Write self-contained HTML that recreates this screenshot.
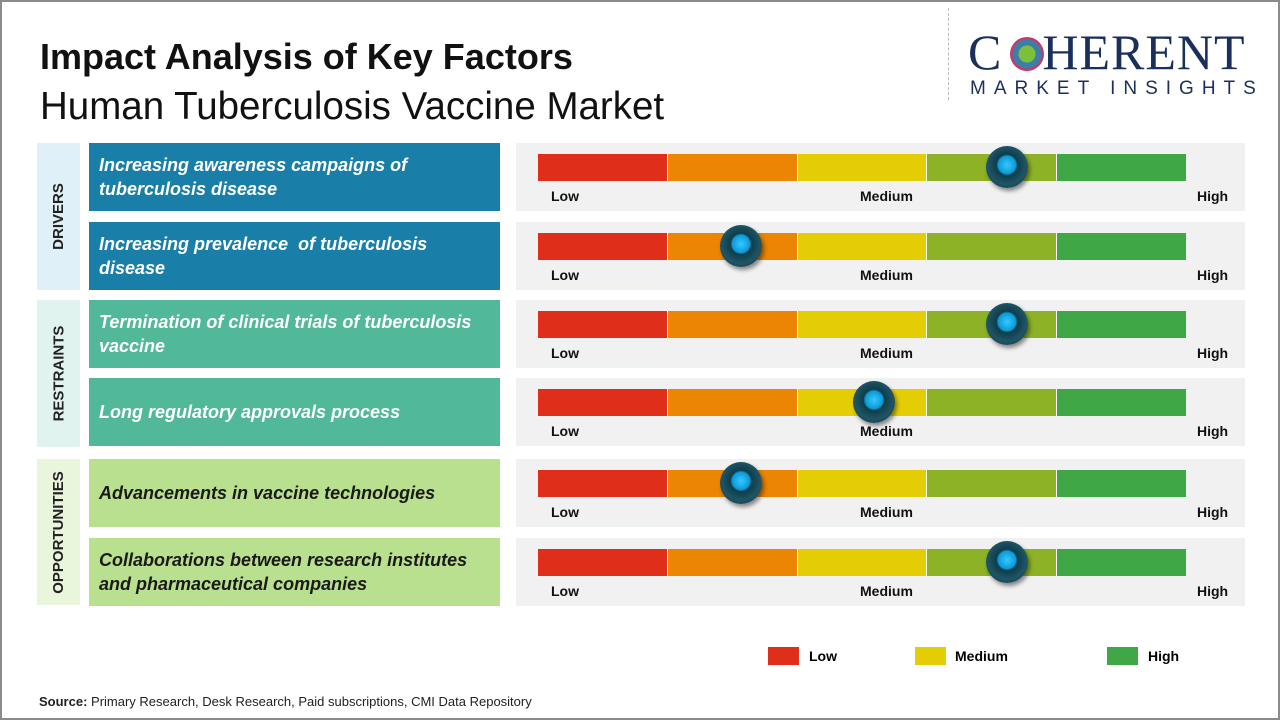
<!DOCTYPE html>
<html><head><meta charset="utf-8"><style>
*{margin:0;padding:0;box-sizing:border-box}
body{width:1280px;height:720px;background:#fff;position:relative;overflow:hidden;font-family:"Liberation Sans",sans-serif}
.a{position:absolute}
.cat{position:absolute;left:37px;width:43px;display:flex;align-items:center;justify-content:center}
.cat span{transform:rotate(-90deg);white-space:nowrap;font-weight:bold;font-size:15px;color:#222}
.lab{position:absolute;left:89px;width:411px;height:68px;display:flex;align-items:center;padding-left:10px;font-weight:bold;font-style:italic;font-size:18px;line-height:24px}
.pan{position:absolute;left:516px;width:729px;height:68px;background:#f1f1f1}
.bar{position:absolute;left:22px;top:11px;height:27px;width:648px;display:flex}
.bar div{flex:1;border-right:1.5px solid #fff}
.bar div:last-child{border:none}
.t{position:absolute;top:45px;font-size:14px;font-weight:bold;color:#111}
.k{position:absolute;width:42px;height:42px;border-radius:50%;background:radial-gradient(circle at 50% 45%,#36c8ff 0,#0d9ad8 28%,#0e3d4a 34%,#1f5566 62%,#0b2a33 100%);box-shadow:2px 3px 4px rgba(0,0,0,.45);top:3px}
</style></head><body>
<div class="a" style="left:0;top:0;width:1280px;height:720px;border:2px solid #8a8a8a"></div>
<div class="a" style="left:40px;top:36px;font-size:36px;font-weight:bold;color:#111">Impact Analysis of Key Factors</div>
<div class="a" style="left:40px;top:85px;font-size:38.5px;color:#111">Human Tuberculosis Vaccine Market</div>
<div class="a" style="left:948px;top:8px;height:92px;border-left:1.5px dashed #bbb"></div>
<div class="a" style="left:968px;top:26px;font-family:'Liberation Serif',serif;font-size:50px;color:#1b2f5c;letter-spacing:1px;line-height:52px">C<span style="display:inline-block;width:40px"></span>HERENT</div>
<div class="a" style="left:1010px;top:37px;width:34px;height:34px;border-radius:50%;background:radial-gradient(circle,#7bbf3a 0 35%,#3c7ea8 36% 60%,#c43a6a 61% 75%,transparent 76%)"></div>
<div class="a" style="left:970px;top:78px;font-size:19px;color:#1b2f5c;letter-spacing:8px">MARKET INSIGHTS</div>

<div class="cat" style="top:143px;height:147px;background:#dff0f8"><span>DRIVERS</span></div>
<div class="cat" style="top:300px;height:147px;background:#e0f3ee"><span>RESTRAINTS</span></div>
<div class="cat" style="top:459px;height:146px;background:#eaf6dc"><span>OPPORTUNITIES</span></div>

<div class="lab" style="top:143px;background:#1a7fa8;color:#fff">Increasing awareness campaigns of<br>tuberculosis disease</div>
<div class="lab" style="top:222px;background:#1a7fa8;color:#fff">Increasing prevalence&nbsp; of tuberculosis<br>disease</div>
<div class="lab" style="top:300px;background:#52b89a;color:#fff">Termination of clinical trials of tuberculosis<br>vaccine</div>
<div class="lab" style="top:378px;background:#52b89a;color:#fff">Long regulatory approvals process</div>
<div class="lab" style="top:459px;background:#b8e08e;color:#1a1a1a">Advancements in vaccine technologies</div>
<div class="lab" style="top:538px;background:#b8e08e;color:#1a1a1a">Collaborations between research institutes<br>and pharmaceutical companies</div>

<div id="p"></div>
<script>
var tops=[143,222,300,378,459,538],kx=[1007,741,1007,874,741,1007],h='';
for(var i=0;i<6;i++){h+='<div class="pan" style="top:'+tops[i]+'px"><div class="bar"><div style="background:#df2e1a"></div><div style="background:#ec8404"></div><div style="background:#e5cd05"></div><div style="background:#8db225"></div><div style="background:#3fa746"></div></div><div class="t" style="left:35px">Low</div><div class="t" style="left:344px">Medium</div><div class="t" style="left:681px">High</div><div class="k" style="left:'+(kx[i]-516-21)+'px"></div></div>';}
document.getElementById('p').innerHTML=h;
</script>

<div class="a" style="left:768px;top:647px;width:31px;height:18px;background:#df2e1a"></div>
<div class="a" style="left:809px;top:648px;font-size:14px;font-weight:bold">Low</div>
<div class="a" style="left:915px;top:647px;width:31px;height:18px;background:#e5cd05"></div>
<div class="a" style="left:955px;top:648px;font-size:14px;font-weight:bold">Medium</div>
<div class="a" style="left:1107px;top:647px;width:31px;height:18px;background:#3fa746"></div>
<div class="a" style="left:1148px;top:648px;font-size:14px;font-weight:bold">High</div>
<div class="a" style="left:39px;top:694px;font-size:13px;color:#222"><b>Source:</b> Primary Research, Desk Research, Paid subscriptions, CMI Data Repository</div>
</body></html>
